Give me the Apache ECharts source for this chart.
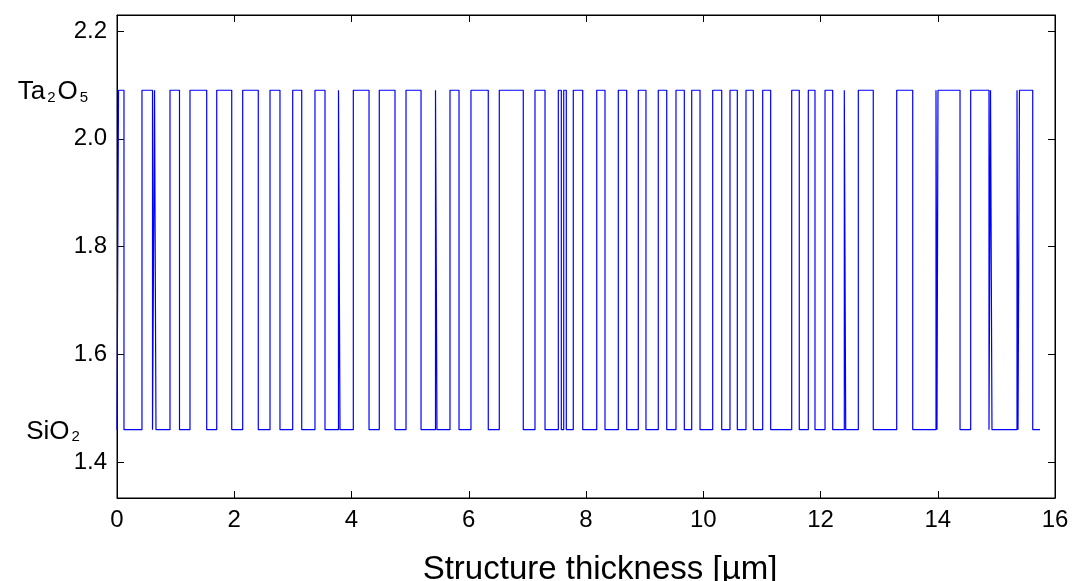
<!DOCTYPE html>
<html>
<head>
<meta charset="utf-8">
<script src="https://cdn.jsdelivr.net/npm/echarts@6/dist/echarts.min.js"></script>
<style>html,body{margin:0;padding:0;background:#fff;}#c{width:1075px;height:581px;}</style>
</head>
<body>
<div id="c"></div>
<script>
// Refractive index levels of the two materials
const levelSiO2 = 1.46;
const levelTa2O5 = 2.09;
// Interface positions (µm); layer material toggles at each interface, starting with SiO2
const interfaces = [
  0.026, 0.119, 0.426, 0.606, 0.640, 0.665, 0.904, 1.066, 1.245, 1.530,
  1.701, 1.957, 2.144, 2.410, 2.610, 2.780, 2.997, 3.151, 3.377, 3.548,
  3.778, 3.804, 4.031, 4.299, 4.474, 4.742, 4.930, 5.186, 5.433, 5.458,
  5.680, 5.834, 6.038, 6.333, 6.521, 6.930, 7.130, 7.301, 7.528, 7.579,
  7.620, 7.664, 7.783, 7.944, 8.183, 8.324, 8.551, 8.694, 8.892, 9.023,
  9.233, 9.377, 9.535, 9.677, 9.803, 9.945, 10.161, 10.315, 10.456, 10.581,
  10.729, 10.854, 11.014, 11.150, 11.509, 11.638, 11.792, 11.906, 12.077, 12.208,
  12.406, 12.430, 12.645, 12.900, 13.300, 13.573, 13.970, 13.987, 14.004, 14.380,
  14.562, 14.874, 14.900, 14.925, 15.352, 15.369, 15.394, 15.620
];
const structureStart = 0;
const structureEnd = 15.744;
// Axis ticks
const xTicks = [0, 2, 4, 6, 8, 10, 12, 14, 16];
const yTicks = [1.4, 1.6, 1.8, 2.0, 2.2];
const materialTicks = [levelSiO2, levelTa2O5];

const pts = [[structureStart, levelSiO2]];
let lv = levelSiO2;
for (const e of interfaces) {
  pts.push([e, lv]);
  lv = (lv === levelSiO2) ? levelTa2O5 : levelSiO2;
  pts.push([e, lv]);
}
pts.push([structureEnd, lv]);

const FONT = 'Liberation Sans';
const yMin = 1.3332, yMax = 2.2297;
const tickStyle = {show: true, inside: true, length: 7, lineStyle: {color: '#000', width: 1}};
const isYTick = v => yTicks.some(t => Math.abs(t - v) < 1e-6);

const chart = echarts.init(document.getElementById('c'), null, {renderer: 'canvas'});
chart.setOption({
  animation: false,
  backgroundColor: '#fff',
  grid: {left: 117, top: 15, width: 938, height: 483, containLabel: false, outerBoundsMode: 'none',
         show: true, borderColor: '#000', borderWidth: 1, backgroundColor: 'transparent'},
  xAxis: [
    {
      type: 'value', min: xTicks[0], max: xTicks[xTicks.length - 1], interval: 2, position: 'bottom',
      name: 'Structure thickness [µm]', nameLocation: 'middle', nameGap: 55,
      nameTextStyle: {fontFamily: FONT, fontSize: 33, color: '#000', padding: [0, 0, 0, 28]},
      axisLine: {show: true, onZero: false, lineStyle: {color: '#000'}},
      axisTick: tickStyle,
      axisLabel: {fontFamily: FONT, fontSize: 24, color: '#000', margin: 10},
      splitLine: {show: false}
    },
    {
      type: 'value', min: xTicks[0], max: xTicks[xTicks.length - 1], interval: 2, position: 'top',
      axisLine: {show: true, onZero: false, lineStyle: {color: '#000'}},
      axisTick: tickStyle,
      axisLabel: {show: false},
      splitLine: {show: false}
    }
  ],
  yAxis: [
    {
      type: 'value', min: yMin, max: yMax, splitNumber: 5, position: 'left',
      axisLine: {show: true, onZero: false, lineStyle: {color: '#000'}},
      axisTick: tickStyle,
      axisLabel: {showMinLabel: false, showMaxLabel: false,
        formatter: v => isYTick(v) ? v.toFixed(1) : '',
        fontFamily: FONT, fontSize: 24, color: '#000', margin: 10},
      splitLine: {show: false}
    },
    {
      type: 'value', min: yMin, max: yMax, splitNumber: 5, position: 'right',
      axisLine: {show: true, onZero: false, lineStyle: {color: '#000'}},
      axisTick: tickStyle,
      axisLabel: {show: false},
      splitLine: {show: false}
    },
    {
      type: 'value', min: yMin, max: yMax, position: 'left',
      axisLine: {show: false, onZero: false}, axisTick: {show: false}, splitLine: {show: false},
      axisLabel: {
        customValues: materialTicks, align: 'center', margin: 63,
        formatter: v => (Math.abs(v - levelTa2O5) < 1e-6) ? '{n|Ta}{s|2}{n|O}{s|5}' : '{n|SiO}{s|2}',
        rich: {
          n: {fontFamily: FONT, fontSize: 26, color: '#000', lineHeight: 30, verticalAlign: 'bottom'},
          s: {fontFamily: FONT, fontSize: 15, color: '#000', lineHeight: 16, verticalAlign: 'bottom', padding: [0, 2, 0, 2]}
        }
      }
    }
  ],
  series: [{
    type: 'line', xAxisIndex: 0, yAxisIndex: 0, data: pts,
    showSymbol: false, symbol: 'none',
    lineStyle: {color: '#0000ff', width: 1.2}
  }]
});
</script>
</body>
</html>
